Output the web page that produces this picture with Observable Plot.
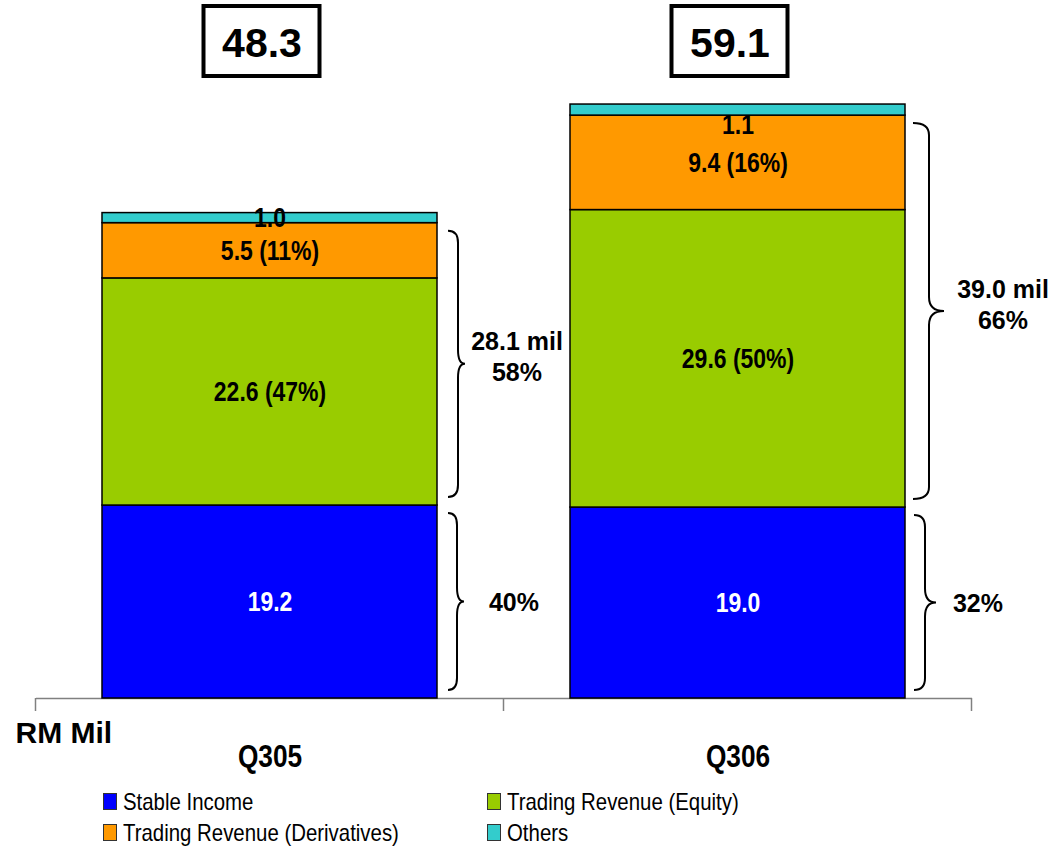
<!DOCTYPE html>
<html>
<head>
<meta charset="utf-8">
<script src="https://cdn.jsdelivr.net/npm/d3@7"></script>
<script src="https://cdn.jsdelivr.net/npm/@observablehq/plot@0.6"></script>
<style>
  html, body { margin: 0; padding: 0; background: #fff; }
  #chart { position: relative; width: 1057px; }
  .legend {
    display: grid;
    grid-template-columns: 384px auto;
    padding-left: 103px;
    margin-top: 6px;
    font-family: "Liberation Sans", Arial, sans-serif;
    font-size: 24px;
    color: #000;
  }
  .legend .item { display: flex; align-items: center; height: 31px; white-space: nowrap; }
  .legend .swatch {
    display: inline-block; width: 12px; height: 15px; flex: none;
    border: 1px solid #333; margin-right: 6px;
  }
  .legend .name { display: inline-block; transform: scaleX(0.85); transform-origin: left center; }
</style>
</head>
<body>
<div id="chart"></div>
<script>
// Revenue breakdown by quarter, RM million
const quarters = ["Q305", "Q306"];
const series = ["Stable Income", "Trading Revenue (Equity)", "Trading Revenue (Derivatives)", "Others"];
const stableIncome = [19.2, 19.0];
const tradingEquity = [22.6, 29.6];
const tradingDerivatives = [5.5, 9.4];
const others = [1.0, 1.1];
const seriesColors = ["#0000FF", "#99CC00", "#FF9900", "#33CCCC"];
const unitLabel = "RM Mil";

// Narrow faces are emulated by horizontally condensing Liberation Sans
const narrow = "'Liberation Sans Narrow', 'Liberation Sans', Arial, sans-serif";
const wide = "'Liberation Sans', Arial, sans-serif";
const narrowFactor = 0.82;

const seriesValues = [stableIncome, tradingEquity, tradingDerivatives, others];
const totals = quarters.map((q, i) => d3.sum(seriesValues, v => v[i]));
const withShare = new Set(["Trading Revenue (Equity)", "Trading Revenue (Derivatives)"]);

// Long table: one row per stacked segment, with its running base
const rows = [];
quarters.forEach((q, i) => {
  let base = 0;
  series.forEach((s, j) => {
    const v = seriesValues[j][i];
    const pct = Math.round(v / totals[i] * 100);
    rows.push({
      quarter: q, series: s, value: v,
      lo: base, hi: base + v, mid: base + v / 2,
      label: withShare.has(s) ? `${v.toFixed(1)} (${pct}%)` : v.toFixed(1)
    });
    base += v;
  });
});

// Brace groups: trading revenue (equity + derivatives) and stable income
const braces = [];
quarters.forEach((q, i) => {
  const trading = tradingEquity[i] + tradingDerivatives[i];
  braces.push({quarter: q, lo: stableIncome[i], hi: stableIncome[i] + trading,
    lines: [`${trading.toFixed(1)} mil`, `${Math.round(trading / totals[i] * 100)}%`]});
  braces.push({quarter: q, lo: 0, hi: stableIncome[i],
    lines: [`${Math.round(stableIncome[i] / totals[i] * 100)}%`]});
});

// Brace drawing offsets (pixels to the right of the bar edge)
const braceShape = [
  {end: 11, spine: 21, tip: 28, text: 80},
  {end: 11, spine: 20, tip: 27, text: 77},
  {end: 8, spine: 24, tip: 39, text: 98},
  {end: 9, spine: 20, tip: 31, text: 73}
];

// Custom layer: bracket shapes with their labels, total boxes, boundary ticks
function decorations(index, scales, values, dims) {
  const x = scales.x, y = scales.y;
  const step = x(quarters[1]) - x(quarters[0]);
  let bw = typeof x.bandwidth === "function" ? x.bandwidth() : x.bandwidth;
  if (bw == null) bw = step * (1 - 0.284);
  const g = d3.create("svg:g");

  // boundary ticks below the baseline
  const y0 = y(0);
  const gap = step - bw;
  const bounds = [x(quarters[0]) - gap / 2, x(quarters[0]) + bw + gap / 2, x(quarters[1]) + bw + gap / 2];
  bounds.forEach(bx => g.append("line")
    .attr("x1", bx).attr("x2", bx).attr("y1", y0).attr("y2", y0 + 13)
    .attr("stroke", "#808080").attr("stroke-width", 1.5));

  // boxes around the totals
  quarters.forEach(q => {
    const cx = x(q) + bw / 2 - 8;
    g.append("rect")
      .attr("x", cx - 58).attr("y", 6).attr("width", 116).attr("height", 70)
      .attr("fill", "none").attr("stroke", "#000").attr("stroke-width", 4);
  });

  // curly braces and their labels
  braces.forEach((b, k) => {
    const s = braceShape[k];
    const right = x(b.quarter) + bw;
    const xe = right + s.end, xs = right + s.spine, xt = right + s.tip;
    const yt = y(b.hi) + 8, yb = y(b.lo) - 8, ym = (yt + yb) / 2;
    const r = 12, rt = 14;
    const p = d3.path();
    p.moveTo(xe, yt);
    p.quadraticCurveTo(xs, yt, xs, yt + r);
    p.lineTo(xs, ym - rt);
    p.quadraticCurveTo(xs, ym, xt, ym);
    p.quadraticCurveTo(xs, ym, xs, ym + rt);
    p.lineTo(xs, yb - r);
    p.quadraticCurveTo(xs, yb, xe, yb);
    g.append("path").attr("d", p.toString())
      .attr("fill", "none").attr("stroke", "#000").attr("stroke-width", 2);

    const lh = 31, fs = 25;
    const center = b.lines.length > 1 ? ym - 7 : ym;
    const t = g.append("text")
      .attr("font-family", wide).attr("font-weight", "bold").attr("font-size", fs)
      .attr("text-anchor", "middle").attr("fill", "#000");
    b.lines.forEach((line, li) => {
      const cy = center + (li - (b.lines.length - 1) / 2) * lh;
      t.append("tspan").attr("x", right + s.text).attr("y", cy + fs * 0.36).text(line);
    });
  });
  return g.node();
}

const totalsData = quarters.map((q, i) => ({quarter: q, total: totals[i]}));

const chart = Plot.plot({
  width: 1057,
  height: 780,
  marginTop: 95,
  marginBottom: 82,
  marginLeft: 36,
  marginRight: 85,
  x: {domain: quarters, paddingInner: 0.284, paddingOuter: 0.142, axis: null},
  y: {domain: [0, 60], axis: null},
  color: {domain: series, range: seriesColors},
  style: {background: "white", overflow: "visible", fontFamily: wide},
  marks: [
    Plot.ruleY([0], {stroke: "#808080", strokeWidth: 1.5}),
    Plot.barY(rows, {x: "quarter", y1: "lo", y2: "hi", fill: "series", stroke: "#000", strokeWidth: 1.5}),
    // segment value labels
    Plot.text(rows.filter(d => !(d.series === "Others" && d.quarter === "Q306")), {
      x: "quarter", y: "mid", text: "label",
      fill: d => d.series === "Stable Income" ? "#fff" : "#000",
      fontFamily: narrow, fontWeight: "bold", fontSize: 28, lineAnchor: "middle"
    }),
    Plot.text(rows.filter(d => d.series === "Others" && d.quarter === "Q306"), {
      x: "quarter", y: "mid", text: "label", dy: 15,
      fill: "#000", fontFamily: narrow, fontWeight: "bold", fontSize: 28, lineAnchor: "middle"
    }),
    // totals above the bars
    Plot.text(totalsData, {
      x: "quarter", text: d => d.total.toFixed(1), frameAnchor: "top", dy: -52, dx: -8,
      fontFamily: wide, fontWeight: "bold", fontSize: 41, lineAnchor: "middle", fill: "#000"
    }),
    // category labels
    Plot.text(quarters, {
      x: d => d, text: d => d, frameAnchor: "bottom", dy: 58,
      fontFamily: narrow, fontWeight: "bold", fontSize: 32, lineAnchor: "middle", fill: "#000"
    }),
    // unit label
    Plot.text([unitLabel], {
      text: d => d, frameAnchor: "bottom-left", dx: -21, dy: 35, textAnchor: "start",
      fontFamily: wide, fontWeight: "bold", fontSize: 30, lineAnchor: "middle", fill: "#000"
    }),
    decorations
  ]
});

const root = document.getElementById("chart");
root.appendChild(chart);

// Condense the narrow-style labels to Arial Narrow proportions
chart.querySelectorAll('[font-family*="Narrow"] text').forEach(t => {
  const spans = t.querySelectorAll("tspan");
  const targets = spans.length ? Array.from(spans) : [t];
  targets.forEach(el => {
    const len = el.getComputedTextLength();
    el.setAttribute("textLength", len * narrowFactor);
    el.setAttribute("lengthAdjust", "spacingAndGlyphs");
  });
});

// Legend: two columns, row-major in series order
const legend = document.createElement("div");
legend.className = "legend";
series.forEach((s, j) => {
  const item = document.createElement("div");
  item.className = "item";
  const sw = document.createElement("span");
  sw.className = "swatch";
  sw.style.background = seriesColors[j];
  const label = document.createElement("span");
  label.className = "name";
  label.textContent = s;
  item.appendChild(sw);
  item.appendChild(label);
  legend.appendChild(item);
});
root.appendChild(legend);
</script>
</body>
</html>
